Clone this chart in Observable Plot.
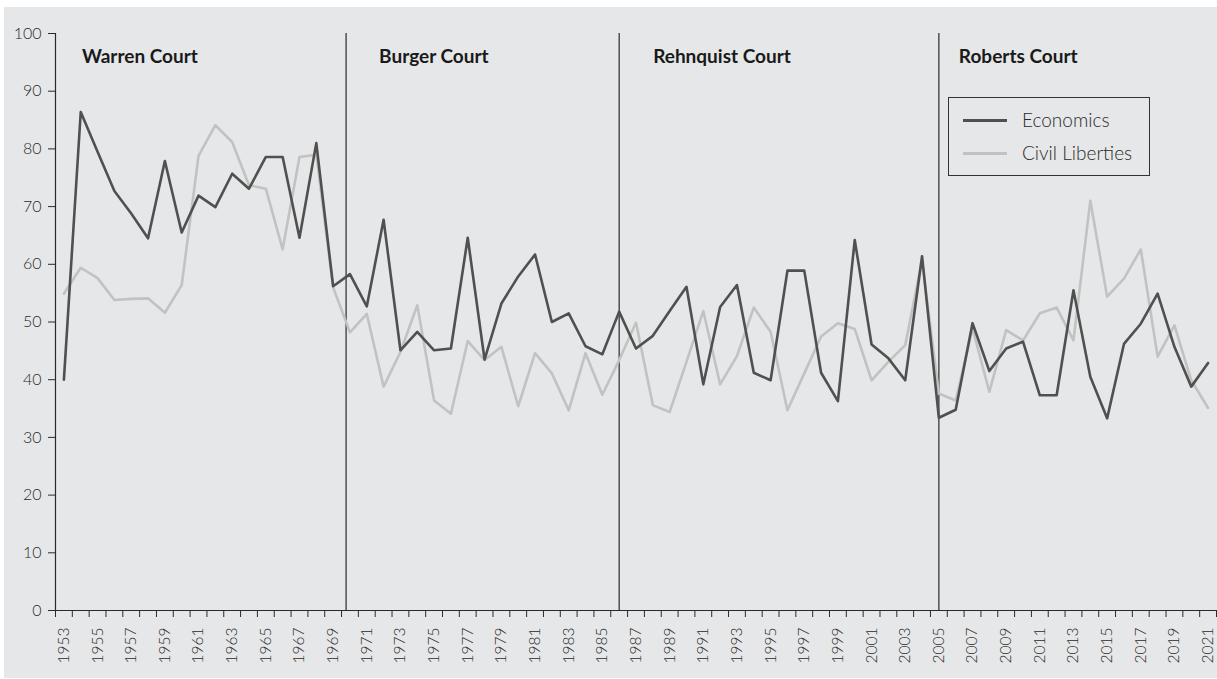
<!DOCTYPE html>
<html>
<head>
<meta charset="utf-8">
<script src="https://cdn.jsdelivr.net/npm/d3@7"></script>
<script src="https://cdn.jsdelivr.net/npm/@observablehq/plot@0.6"></script>
<style>
  html, body { margin: 0; padding: 0; background: #ffffff; }
  #wrap { position: relative; width: 1217px; height: 679px; font-family: Lato, "Open Sans", sans-serif; }
  #legend { position: absolute; left: 948px; top: 97px; width: 200px; height: 77px; border: 1px solid #333; box-sizing: content-box; }
  .item { position: absolute; left: 14px; display: flex; align-items: center; font-size: 19px; font-weight: 300; color: #2a2a2a; line-height: 22px; }
  .swatch { width: 44px; height: 3px; margin-right: 15px; }
</style>
</head>
<body>
<div id="wrap"></div>
<script>
// ---- data ----
const years = [1953,1954,1955,1956,1957,1958,1959,1960,1961,1962,1963,1964,1965,1966,1967,1968,1969,1970,1971,1972,1973,1974,1975,1976,1977,1978,1979,1980,1981,1982,1983,1984,1985,1986,1987,1988,1989,1990,1991,1992,1993,1994,1995,1996,1997,1998,1999,2000,2001,2002,2003,2004,2005,2006,2007,2008,2009,2010,2011,2012,2013,2014,2015,2016,2017,2018,2019,2020,2021];
const economics = [40.0,86.4,79.5,72.7,68.8,64.5,77.9,65.5,71.9,69.9,75.7,73.1,78.6,78.6,64.6,81.0,56.2,58.3,52.7,67.7,45.1,48.3,45.1,45.4,64.6,43.5,53.2,57.9,61.7,50.0,51.5,45.8,44.4,51.8,45.4,47.6,51.9,56.1,39.2,52.6,56.4,41.2,39.9,58.9,58.9,41.2,36.3,64.2,46.1,43.7,39.9,61.4,33.4,34.8,49.8,41.5,45.4,46.6,37.3,37.3,55.5,40.5,33.3,46.2,49.7,54.9,45.7,38.8,42.9];
const civilLiberties = [54.9,59.4,57.6,53.8,54.0,54.1,51.6,56.4,78.8,84.1,81.2,73.7,73.1,62.6,78.6,79.0,56.0,48.2,51.4,38.8,44.8,52.9,36.4,34.1,46.7,43.4,45.7,35.4,44.6,41.1,34.7,44.6,37.4,43.4,49.9,35.6,34.4,43.1,51.9,39.2,44.1,52.5,48.3,34.7,41.1,47.5,49.8,48.8,39.9,43.1,46.0,60.7,37.6,36.4,48.9,37.9,48.6,46.8,51.5,52.5,46.8,71.0,54.4,57.5,62.6,44.0,49.4,39.9,35.1];
const courts = ["Warren Court","Burger Court","Rehnquist Court","Roberts Court"];
const courtStarts = [1953, 1969.77, 1986, 2005];
const seriesNames = ["Economics","Civil Liberties"];
const yTicks = [0,10,20,30,40,50,60,70,80,90,100];
const xLabelYears = years.filter(y => y % 2 === 1);

const dark = "#505050", light = "#c2c2c2", ink = "#2a2a2a";
const econRows = years.map((y, i) => ({year: y, value: economics[i]}));
const civRows = years.map((y, i) => ({year: y, value: civilLiberties[i]}));
const boundaries = d3.range(years[0] - 0.5, years[years.length - 1] + 1, 1);
const courtLabels = courts.map((c, i) => ({name: c, x: courtStarts[i]}));
const labelDx = [18, 33, 34, 20];

const chart = Plot.plot({
  width: 1217,
  height: 679,
  marginLeft: 55,
  marginRight: 1,
  marginTop: 33,
  marginBottom: 69,
  style: {background: "transparent", fontFamily: "Lato, 'Open Sans', sans-serif", color: ink},
  x: {type: "linear", domain: [years[0] - 0.5, years[years.length - 1] + 0.5]},
  y: {domain: [0, 100]},
  marks: [
    Plot.axisY({ticks: yTicks, tickSize: 7, tickPadding: 7, fontSize: 16, fontWeight: 300, stroke: ink, fill: ink, label: null}),
    Plot.axisX({ticks: boundaries, tickSize: 7, tickFormat: () => "", stroke: ink, label: null}),
    Plot.text(xLabelYears, {x: d => d, y: 0, text: d => String(d), rotate: -90, textAnchor: "end", lineAnchor: "middle", dy: 17, fontSize: 15.5, fontWeight: 300, fill: ink}),
    Plot.ruleX(courtStarts.slice(1), {y1: 0, y2: 100, stroke: ink, strokeWidth: 1.2}),
    Plot.line(civRows, {x: "year", y: "value", stroke: light, strokeWidth: 2.6}),
    Plot.line(econRows, {x: "year", y: "value", stroke: dark, strokeWidth: 2.6}),
    Plot.ruleX([years[0] - 0.5], {y1: 0, y2: 100, stroke: ink, strokeWidth: 1.2}),
    Plot.ruleY([0], {stroke: ink, strokeWidth: 1.2}),
    Plot.text(courtLabels, {x: "x", y: 95.9, text: "name", textAnchor: "start", fontSize: 19, fontWeight: "bold", fill: "#1a1a1a", className: "court-labels"})
  ]
});

// apply per-label offsets
d3.select(chart).selectAll("g.court-labels text").each(function(d, i) {
  const t = d3.select(this);
  const x = +t.attr("x") || 0;
  t.attr("x", x + labelDx[i]);
});
// gray panel background
d3.select(chart).insert("rect", ":first-child")
  .attr("x", 4).attr("y", 7).attr("width", 1213).attr("height", 671)
  .attr("fill", "#e6e7e8");

const wrap = document.getElementById("wrap");
wrap.appendChild(chart);

// legend
const legend = document.createElement("div");
legend.id = "legend";
[[seriesNames[0], dark, 22], [seriesNames[1], light, 55]].forEach(([name, color, top]) => {
  const item = document.createElement("div");
  item.className = "item";
  item.style.top = (top - 11) + "px";
  const sw = document.createElement("span");
  sw.className = "swatch";
  sw.style.background = color;
  const tx = document.createElement("span");
  tx.textContent = name;
  item.appendChild(sw); item.appendChild(tx);
  legend.appendChild(item);
});
wrap.appendChild(legend);
</script>
</body>
</html>
